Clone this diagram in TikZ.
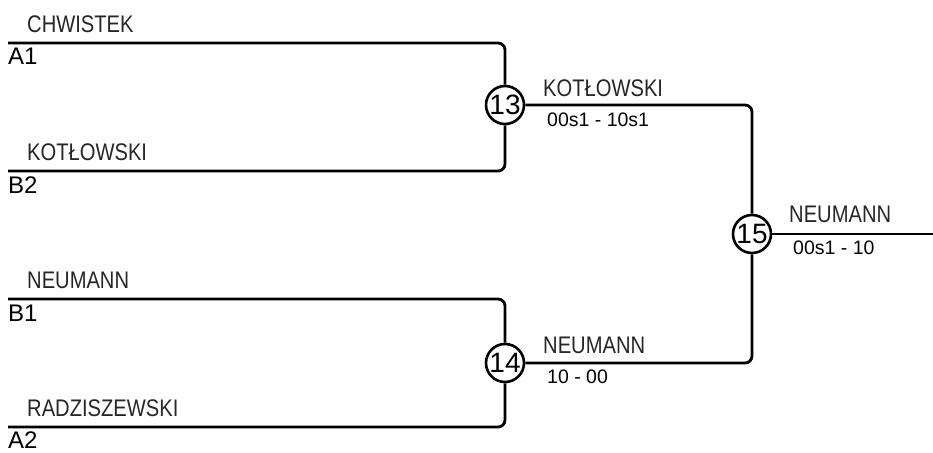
\documentclass[tikz,border=0pt]{standalone}
\usepackage{fontspec}
\setmainfont{Liberation Sans}
\newfontfamily\condfont[FakeStretch=0.84]{Liberation Sans}
\begin{document}
\begin{tikzpicture}[x=1pt,y=-1pt,
  bline/.style={line width=2.8pt, rounded corners=7pt},
  match/.style={circle, draw, line width=2.6pt, fill=white, minimum size=38pt, inner sep=0pt, font=\fontsize{28}{28}\selectfont},
  pname/.style={anchor=base west, inner sep=0pt, text=black!85, font=\condfont\fontsize{24}{24}\selectfont},
  seed/.style={anchor=base west, inner sep=0pt, font=\fontsize{24}{24}\selectfont},
  score/.style={anchor=base west, inner sep=0pt, font=\fontsize{19.5}{19.5}\selectfont}]
\useasboundingbox (0,0) rectangle (933,452);
% entry line ends
\coordinate (a1) at (8,43);
\coordinate (b2) at (8,171);
\coordinate (b1) at (8,299);
\coordinate (a2) at (8,427);
\coordinate (out) at (933,234);
% matches
\node[match] (m13) at (505,105) {13};
\node[match] (m14) at (505,363) {14};
\node[match] (m15) at (752,234) {15};
% connectors
\draw[bline] (a1) -| (m13);
\draw[bline] (b2) -| (m13);
\draw[bline] (b1) -| (m14);
\draw[bline] (a2) -| (m14);
\draw[bline] (m13) -| (m15);
\draw[bline] (m14) -| (m15);
\draw[bline] (m15) -- (out);
% player names
\node[pname] (n1) at (27,33) {CHWISTEK};
\node[pname] (n2) at (27,160) {KOTŁOWSKI};
\node[pname] (n3) at (27,288) {NEUMANN};
\node[pname] (n4) at (27,416) {RADZISZEWSKI};
\node[pname] (w13) at (543,96) {KOTŁOWSKI};
\node[pname] (w14) at (543,353) {NEUMANN};
\node[pname] (w15) at (789,222) {NEUMANN};
% seeds
\node[seed] (s1) at (8,64) {A1};
\node[seed] (s2) at (8,193) {B2};
\node[seed] (s3) at (8,321) {B1};
\node[seed] (s4) at (8,448) {A2};
% scores
\node[score] (r13) at (547,126) {00s1 - 10s1};
\node[score] (r14) at (547,383) {10 - 00};
\node[score] (r15) at (793,254) {00s1 - 10};
\end{tikzpicture}
\end{document}
